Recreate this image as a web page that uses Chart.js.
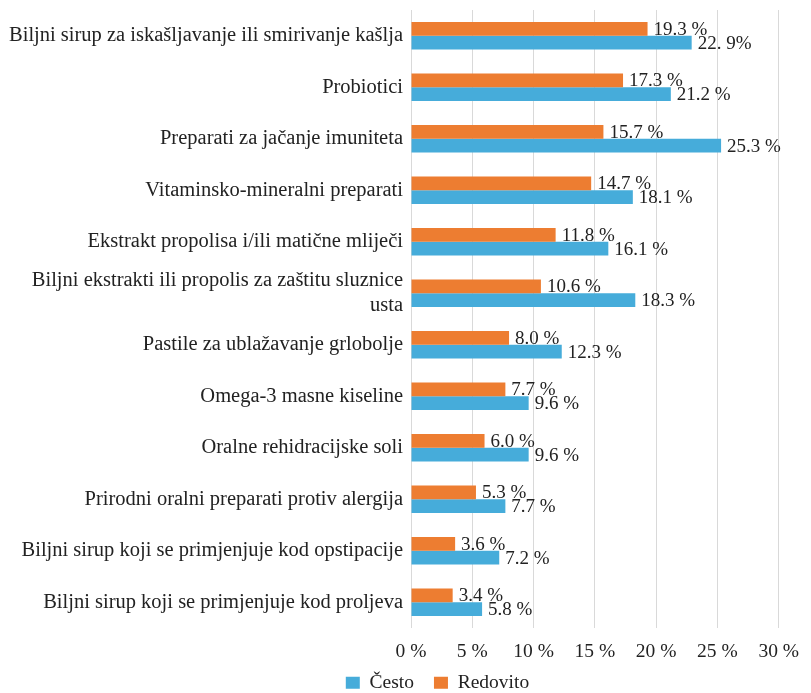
<!DOCTYPE html>
<html>
<head>
<meta charset="utf-8">
<script src="https://cdn.jsdelivr.net/npm/chart.js@4.4.1/dist/chart.umd.min.js"></script>
<style>
  html, body { margin: 0; padding: 0; background: #fff; }
  #wrap { width: 811px; height: 693px; }
</style>
</head>
<body>
<div id="wrap"><canvas id="barChart" width="811" height="693"></canvas></div>
<script>
// categories, top to bottom
const categories = [
    'Biljni sirup za iskašljavanje ili smirivanje kašlja',
    'Probiotici',
    'Preparati za jačanje imuniteta',
    'Vitaminsko-mineralni preparati',
    'Ekstrakt propolisa i/ili matične mliječi',
    ['Biljni ekstrakti ili propolis za zaštitu sluznice', 'usta'],
    'Pastile za ublažavanje grlobolje',
    'Omega-3 masne kiseline',
    'Oralne rehidracijske soli',
    'Prirodni oralni preparati protiv alergija',
    'Biljni sirup koji se primjenjuje kod opstipacije',
    'Biljni sirup koji se primjenjuje kod proljeva'
];
const redovito = [19.3, 17.3, 15.7, 14.7, 11.8, 10.6, 8.0, 7.7, 6.0, 5.3, 3.6, 3.4];
const cesto = [22.9, 21.2, 25.3, 18.1, 16.1, 18.3, 12.3, 9.6, 9.6, 7.7, 7.2, 5.8];
const xTicks = [0, 5, 10, 15, 20, 25, 30];

const FONT = '"Liberation Serif", "Times New Roman", serif';
const TEXT = '#222';

// value labels drawn right of each bar
const valueLabels = {
    id: 'valueLabels',
    afterDatasetsDraw(chart) {
        const ctx = chart.ctx;
        ctx.save();
        ctx.font = '19px ' + FONT;
        ctx.fillStyle = TEXT;
        ctx.textBaseline = 'middle';
        ctx.textAlign = 'left';
        chart.data.datasets.forEach((ds, i) => {
            const meta = chart.getDatasetMeta(i);
            meta.data.forEach((bar, j) => {
                let txt = ds.data[j].toFixed(1) + ' %';
                if (i === 1 && j === 0) txt = '22. 9%';
                ctx.fillText(txt, bar.x + 6, bar.y + 1);
            });
        });
        ctx.restore();
    }
};

// legend sits a bit right of centre and high in the original
const legendShift = {
    id: 'legendShift',
    afterLayout(chart) {
        chart.legend.left += 34;
        chart.legend.right += 34;
        chart.legend.top -= 13;
        chart.legend.height += 13;
    }
};

const ctx = document.getElementById('barChart').getContext('2d');
var chart = new Chart(ctx, {
    type: 'bar',
    data: {
        labels: categories,
        datasets: [
            {
                label: 'Redovito',
                backgroundColor: '#ED7D31',
                data: redovito,
                categoryPercentage: 0.53,
                barPercentage: 1.0
            },
            {
                label: 'Često',
                backgroundColor: '#46ACDA',
                data: cesto,
                categoryPercentage: 0.53,
                barPercentage: 1.0
            }
        ]
    },
    options: {
        indexAxis: 'y',
        responsive: false,
        animation: false,
        layout: { padding: { left: 0, right: 4, top: 10, bottom: 0 } },
        scales: {
            x: {
                min: 0,
                max: 30,
                afterBuildTicks: s => { s.ticks = xTicks.map(v => ({ value: v })); },
                afterFit: s => { s.height = 38; },
                grid: { color: '#D9D9D9', lineWidth: 1, drawTicks: false },
                border: { display: false },
                ticks: {
                    padding: 12,
                    color: TEXT,
                    font: { family: FONT, size: 19.5 },
                    callback: v => v + ' %'
                }
            },
            y: {
                grid: { display: false, drawTicks: false },
                border: { display: false },
                afterFit: s => {
                    s.width = 411;
                    s.paddingTop = 0;
                    s.paddingBottom = 0;
                },
                ticks: {
                    padding: 8,
                    color: TEXT,
                    font: { family: FONT, size: 20.5, lineHeight: 1.2 },
                    autoSkip: false
                }
            }
        },
        plugins: {
            legend: {
                position: 'bottom',
                reverse: true,
                maxHeight: 27,
                labels: {
                    color: TEXT,
                    font: { family: FONT, size: 19.5, lineHeight: 1 },
                    boxWidth: 14,
                    boxHeight: 12,
                    padding: 20
                }
            },
            tooltip: { enabled: false }
        }
    },
    plugins: [valueLabels, legendShift]
});
</script>
</body>
</html>
